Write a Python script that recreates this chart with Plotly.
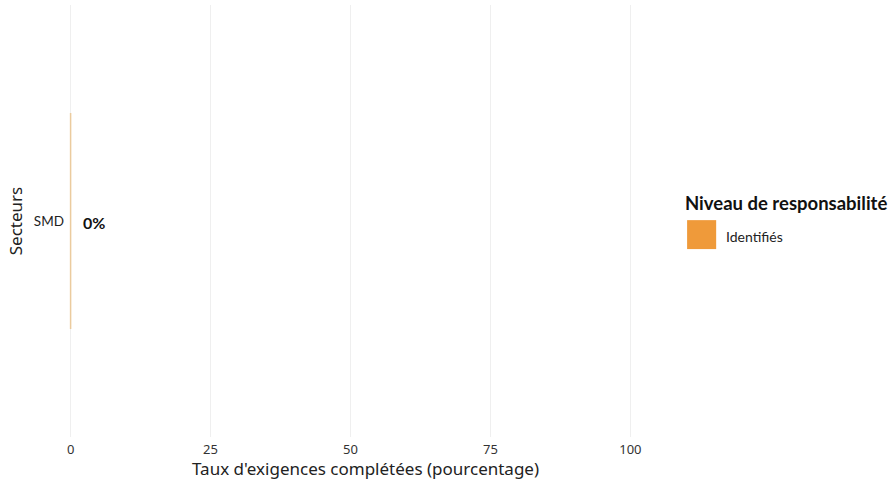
import plotly.graph_objects as go

categories = ["SMD"]
values = [0]
value_labels = ["0%"]
series_name = "Identifiés"
legend_title = "Niveau de responsabilité"
x_title = "Taux d'exigences complétées (pourcentage)"
y_title = "Secteurs"
x_ticks = [0, 25, 50, 75, 100]

bar_color = "#EF9A3A"
font_main = "Lato"

fig = go.Figure()
fig.add_trace(go.Bar(
    y=categories, x=values, orientation="h", name=series_name,
    marker=dict(color=bar_color, line=dict(color="#EBCB9E", width=1.5)),
    width=0.5, showlegend=False,
))
for c, v, t in zip(categories, values, value_labels):
    fig.add_annotation(x=v, y=c, text="<b>" + t + "</b>", showarrow=False,
                       xanchor="left", xshift=10, yshift=-1,
                       font=dict(family=font_main, size=16, color="#111111"))

# x-axis title
fig.add_annotation(xref="paper", yref="paper", x=0.526, y=-0.0718, xanchor="center", yanchor="middle",
                   text=x_title, showarrow=False,
                   font=dict(family="Noto Sans", size=17, color="#222222"))

# manual legend
fig.add_annotation(xref="paper", yref="paper", x=1.082, y=0.5417, xanchor="left", yanchor="middle",
                   text="<b>" + legend_title + "</b>", showarrow=False,
                   font=dict(family=font_main, size=18.5, color="#111111"))
fig.add_shape(type="rect", xref="paper", yref="paper", x0=1.0895, x1=1.1404, y0=0.435, y1=0.502,
              fillcolor=bar_color, line=dict(width=0))
fig.add_annotation(xref="paper", yref="paper", x=1.154, y=0.463, xanchor="left", yanchor="middle",
                   text=series_name, showarrow=False,
                   font=dict(family=font_main, size=14, color="#222222"))

fig.update_layout(
    width=889, height=485,
    margin=dict(l=65, r=253, t=5, b=48),
    plot_bgcolor="white", paper_bgcolor="white",
    font=dict(family=font_main, size=13, color="#222222"),
    showlegend=False,
    bargap=0.5,
)
fig.update_xaxes(range=[-1, 101], tickvals=x_ticks, ticktext=[str(t) for t in x_ticks],
                 showgrid=True, gridcolor="#EFEFEF", gridwidth=1, zeroline=False,
                 showline=False, ticks="", ticklabelstandoff=3, automargin=False,
                 tickfont=dict(family="Noto Sans", size=13, color="#333333"))
fig.update_yaxes(showgrid=False, zeroline=False, showline=False, ticks="",
                 range=[-0.5, 0.5], automargin=False,
                 title=dict(text=y_title, font=dict(family="Noto Sans", size=17, color="#222222"), standoff=6),
                 tickfont=dict(family=font_main, size=13.5, color="#222222"))

fig.write_html("out.html", config={"displayModeBar": False},
               post_script="document.body.style.margin='0';")
